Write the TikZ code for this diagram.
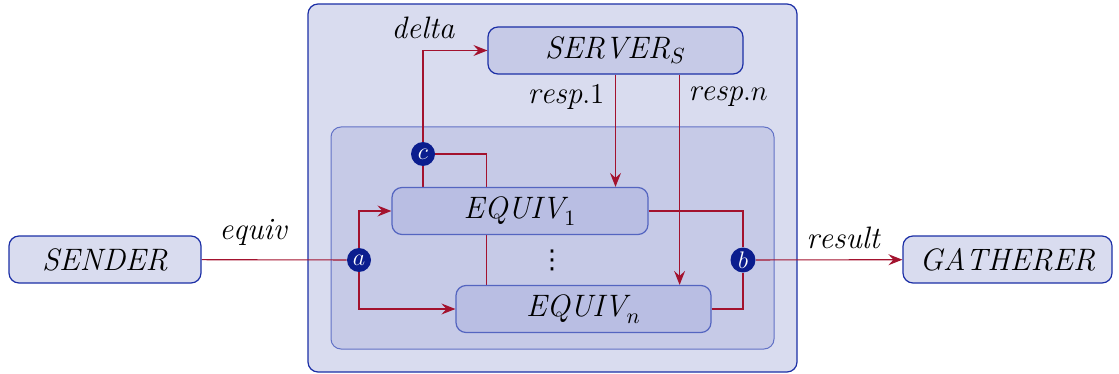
\documentclass[tikz,border=0pt]{standalone}
\usepackage{fontspec}
\newfontfamily\symfont{DejaVu Sans}
\usetikzlibrary{arrows.meta}
\pgfdeclarelayer{panel}
\pgfdeclarelayer{wires}
\pgfsetlayers{panel,wires,main}

\definecolor{outerfill}{HTML}{D9DCEF}
\definecolor{innerfill}{HTML}{C6CAE7}
\definecolor{procfill}{HTML}{B9BEE3}
\definecolor{edgeblue}{HTML}{1C2FA6}
\definecolor{softblue}{HTML}{6272C6}
\definecolor{wirered}{HTML}{A3122E}
\definecolor{portblue}{HTML}{0B1D8E}

\tikzset{
  txt/.style={font=\fontsize{15.5}{18}\selectfont},
  proc/.style={txt, draw=edgeblue, line width=0.6pt, rounded corners=5pt,
    inner sep=0pt, minimum height=23.5pt},
  extproc/.style={proc, fill=outerfill},
  srvproc/.style={proc, fill=innerfill},
  eqproc/.style={proc, draw=softblue!80!edgeblue, fill=procfill},
  port/.style={circle, fill=portblue, text=white, inner sep=1pt,
    minimum size=12pt, font=\fontsize{13}{15}\selectfont},
  wire/.style={draw=wirered, line width=0.55pt},
  flow/.style={wire, -{Stealth[length=7pt, width=5.5pt, inset=2.5pt]}},
  lbl/.style={txt}
}

\begin{document}
\begin{tikzpicture}[x=0.5pt, y=-0.5pt]
  \useasboundingbox (0,0) rectangle (1119,374);

  % compound process and its replicated core
  \begin{pgfonlayer}{panel}
    \draw[edgeblue, fill=outerfill, line width=0.6pt, rounded corners=5pt]
      (308,4) rectangle (797,372);
    \draw[softblue, fill=innerfill, line width=0.5pt, rounded corners=5pt]
      (331,127) rectangle (774,349);
  \end{pgfonlayer}

  % processes
  \node[extproc, minimum width=96pt]    (sender)   at (105,259.5)  {$\mathit{SENDER}$};
  \node[extproc, minimum width=104.5pt] (gatherer) at (1007.5,259.5) {$\mathit{GATHERER}$};
  \node[srvproc, minimum width=127.5pt] (server)   at (615.5,50.5) {$\mathit{SERVER}_S$};
  \node[eqproc,  minimum width=128pt]   (equivA)   at (520,211)    {$\mathit{EQUIV}_1$};
  \node[eqproc,  minimum width=127.5pt] (equivN)   at (583.5,309)  {$\mathit{EQUIV}_n$};
  \node[font=\symfont\fontsize{13}{15}\selectfont] (dots) at (552,260) {⋮};

  % ports
  \node[port] (a) at (359,260) {$a$};
  \node[port] (b) at (743,260) {$b$};
  \node[port] (c) at (423,154) {$c$};

  % channels
  \begin{pgfonlayer}{wires}
    \draw[wire] (sender) -- (a);
    \draw[flow] (a) |- (equivA.west);
    \draw[flow] (a) |- (equivN.west);
    \draw[wire] (equivA.east) -| (b);
    \draw[wire] (equivN.east) -| (b);
    \draw[flow] (b) -- (gatherer);
    \draw[wire] (c |- equivA.north) -- (c);
    \draw[flow] (c) |- (server.west);
    \draw[wire] (c) -| ([xshift=15.5pt]equivN.north west);
    \draw[flow] (server.south) -- (server.south |- equivA.north);
    \draw[flow] ([xshift=-32pt]server.south east) -- ([xshift=-32pt]server.south east |- equivN.north);
  \end{pgfonlayer}

  % channel names
  \node[lbl] (lequiv)  at (253,232) {$\mathit{equiv}$};
  \node[lbl] (lresult) at (843,238) {$\mathit{result}$};
  \node[lbl] (ldelta)  at (423,28)  {$\mathit{delta}$};
  \node[lbl] (lresp1)  at (566,97)  {$\mathit{resp}.1$};
  \node[lbl] (lrespn)  at (728,97)  {$\mathit{resp}.n$};
\end{tikzpicture}
\end{document}
